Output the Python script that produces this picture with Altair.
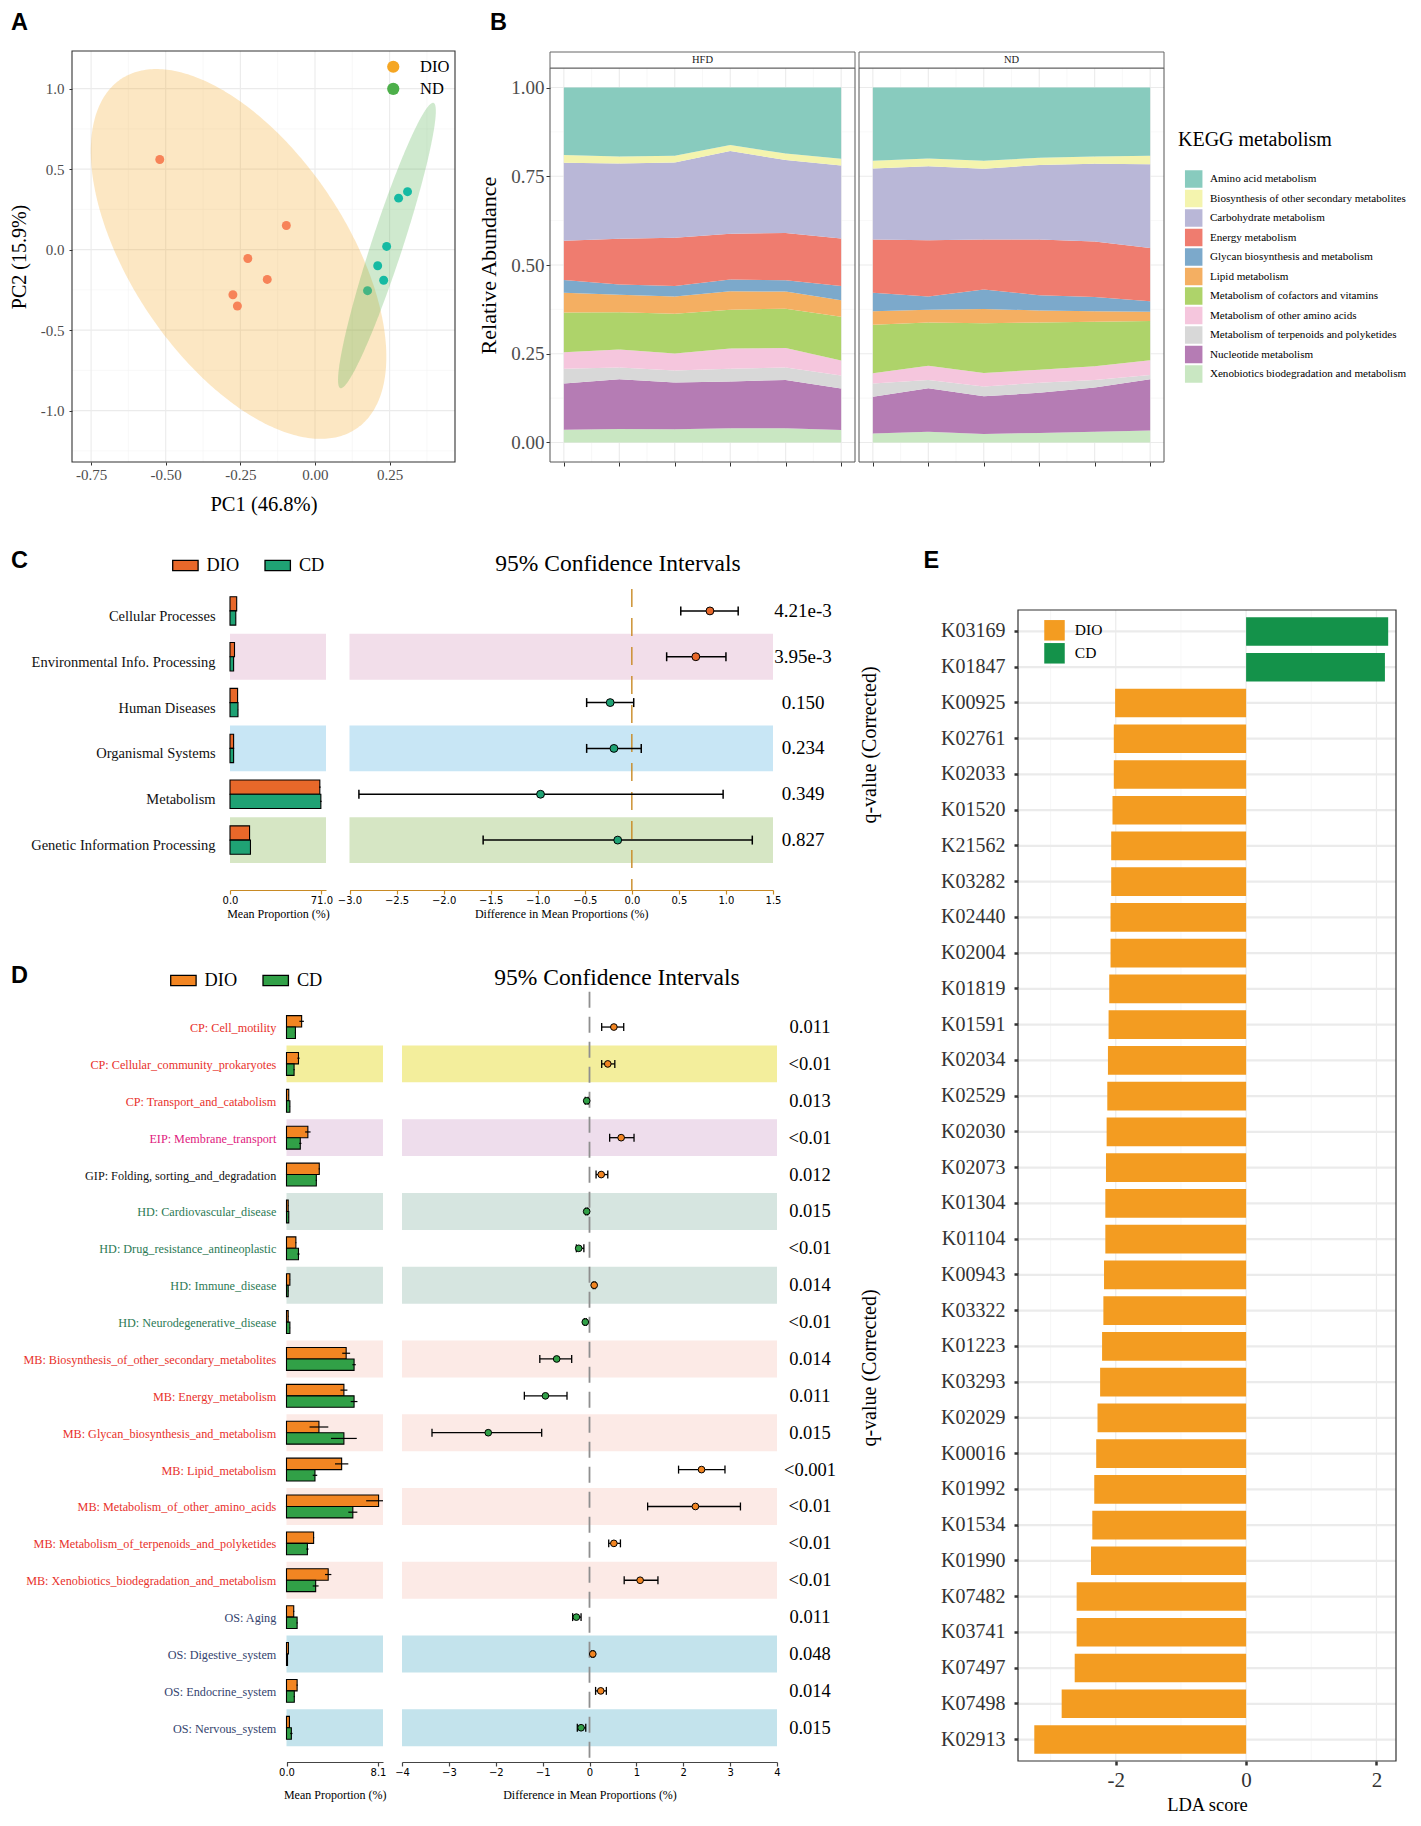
import altair as alt
import numpy as np
import pandas as pd

# ======================= DATA =======================
# --- Panel A: PCA scores ---
pca_groups = ["DIO", "ND"]
dio_pc1 = [-0.52, -0.096, -0.225, -0.16, -0.275, -0.26]
dio_pc2 = [0.56, 0.15, -0.055, -0.185, -0.28, -0.35]
nd_pc1 = [0.176, 0.21, 0.23, 0.24, 0.28, 0.31]
nd_pc2 = [-0.255, -0.10, -0.19, 0.02, 0.32, 0.36]
pc1_ticks = [-0.75, -0.5, -0.25, 0.0, 0.25]
pc2_ticks = [-1.0, -0.5, 0.0, 0.5, 1.0]

# --- Panel B: KEGG level-2 relative abundance ---
kegg_cats = ["Amino acid metabolism", "Biosynthesis of other secondary metabolites",
             "Carbohydrate metabolism", "Energy metabolism", "Glycan biosynthesis and metabolism",
             "Lipid metabolism", "Metabolism of cofactors and vitamins",
             "Metabolism of other amino acids", "Metabolism of terpenoids and polyketides",
             "Nucleotide metabolism", "Xenobiotics biodegradation and metabolism"]
kegg_colors = ["#88CBBE", "#F4F4AE", "#B9B7D7", "#EF7C6F", "#7CA9CB", "#F4AF62",
               "#AED36A", "#F5C6DD", "#D8D8D8", "#B57CB4", "#C9E7C2"]
samples = [1, 2, 3, 4, 5, 6]
hfd_amino = [0.190, 0.194, 0.192, 0.162, 0.186, 0.201]
hfd_biosyn = [0.022, 0.020, 0.019, 0.017, 0.018, 0.019]
hfd_carb = [0.220, 0.212, 0.212, 0.233, 0.206, 0.205]
hfd_energy = [0.110, 0.129, 0.136, 0.129, 0.133, 0.134]
hfd_glycan = [0.036, 0.029, 0.030, 0.033, 0.032, 0.040]
hfd_lipid = [0.056, 0.049, 0.048, 0.052, 0.048, 0.047]
hfd_cofac = [0.112, 0.105, 0.112, 0.109, 0.111, 0.123]
hfd_otheraa = [0.046, 0.051, 0.048, 0.057, 0.055, 0.042]
hfd_terpen = [0.042, 0.033, 0.034, 0.036, 0.035, 0.037]
hfd_nucleo = [0.130, 0.140, 0.132, 0.132, 0.136, 0.117]
hfd_xeno = [0.036, 0.038, 0.037, 0.040, 0.040, 0.035]
nd_amino = [0.206, 0.200, 0.206, 0.198, 0.194, 0.192]
nd_biosyn = [0.022, 0.022, 0.023, 0.020, 0.021, 0.024]
nd_carb = [0.200, 0.208, 0.199, 0.210, 0.219, 0.236]
nd_energy = [0.150, 0.159, 0.141, 0.157, 0.156, 0.150]
nd_glycan = [0.052, 0.037, 0.055, 0.043, 0.040, 0.030]
nd_lipid = [0.038, 0.036, 0.040, 0.034, 0.030, 0.026]
nd_cofac = [0.137, 0.122, 0.140, 0.133, 0.125, 0.110]
nd_otheraa = [0.029, 0.040, 0.038, 0.037, 0.039, 0.042]
nd_terpen = [0.037, 0.023, 0.028, 0.028, 0.021, 0.012]
nd_nucleo = [0.104, 0.123, 0.106, 0.113, 0.125, 0.144]
nd_xeno = [0.025, 0.030, 0.024, 0.027, 0.030, 0.034]

# --- Panel C: STAMP level 1 ---
c_names = ["Cellular Processes", "Environmental Info. Processing", "Human Diseases",
           "Organismal Systems", "Metabolism", "Genetic Information Processing"]
c_dio = [5.2, 3.5, 5.9, 2.8, 69.8, 15.2]
c_cd = [4.5, 2.8, 6.2, 2.8, 70.6, 15.9]
c_dio_se = [0.1, 0.1, 0.1, 0.1, 0.6, 0.3]
c_cd_se = [0.1, 0.1, 0.1, 0.1, 0.6, 0.3]
c_diff = [0.83, 0.68, -0.23, -0.19, -0.97, -0.15]
c_lo = [0.52, 0.37, -0.48, -0.48, -2.90, -1.58]
c_hi = [1.13, 1.00, 0.02, 0.10, 0.97, 1.28]
c_q = ["4.21e-3", "3.95e-3", "0.150", "0.234", "0.349", "0.827"]
c_band_rows = [1, 3, 5]
c_band_colors = ["#F2DEEA", "#C8E6F5", "#D6E6C4"]

# --- Panel D: STAMP level 2 ---
d_names = ["CP: Cell_motility", "CP: Cellular_community_prokaryotes", "CP: Transport_and_catabolism",
           "EIP: Membrane_transport", "GIP: Folding, sorting_and_degradation",
           "HD: Cardiovascular_disease", "HD: Drug_resistance_antineoplastic", "HD: Immune_disease",
           "HD: Neurodegenerative_disease", "MB: Biosynthesis_of_other_secondary_metabolites",
           "MB: Energy_metabolism", "MB: Glycan_biosynthesis_and_metabolism", "MB: Lipid_metabolism",
           "MB: Metabolism_of_other_amino_acids", "MB: Metabolism_of_terpenoids_and_polyketides",
           "MB: Xenobiotics_biodegradation_and_metabolism", "OS: Aging", "OS: Digestive_system",
           "OS: Endocrine_system", "OS: Nervous_system"]
d_dio = [1.34, 1.06, 0.20, 1.89, 2.90, 0.15, 0.83, 0.30, 0.15, 5.28,
         5.08, 2.87, 4.88, 8.15, 2.40, 3.69, 0.64, 0.17, 0.94, 0.26]
d_cd = [0.79, 0.67, 0.30, 1.22, 2.64, 0.20, 1.06, 0.15, 0.30, 5.98,
        5.98, 5.08, 2.52, 5.87, 1.85, 2.58, 0.94, 0.09, 0.69, 0.43]
d_dio_se = [0.20, 0.10, 0.02, 0.24, 0.05, 0.02, 0.04, 0.02, 0.02, 0.35,
            0.31, 0.83, 0.59, 1.10, 0.05, 0.28, 0.05, 0.02, 0.05, 0.03]
d_cd_se = [0.05, 0.05, 0.02, 0.10, 0.05, 0.02, 0.10, 0.02, 0.02, 0.15,
           0.30, 1.14, 0.20, 0.40, 0.10, 0.26, 0.05, 0.02, 0.05, 0.10]
d_diff = [0.52, 0.39, -0.06, 0.675, 0.25, -0.06, -0.23, 0.10, -0.09, -0.70,
          -0.94, -2.16, 2.39, 2.26, 0.52, 1.08, -0.28, 0.07, 0.24, -0.18]
d_lo = [0.26, 0.26, -0.09, 0.43, 0.14, -0.08, -0.28, 0.08, -0.11, -1.06,
        -1.39, -3.36, 1.90, 1.24, 0.41, 0.74, -0.36, 0.05, 0.13, -0.26]
d_hi = [0.73, 0.54, -0.03, 0.95, 0.39, -0.04, -0.12, 0.12, -0.07, -0.38,
        -0.48, -1.02, 2.89, 3.22, 0.66, 1.46, -0.18, 0.09, 0.36, -0.08]
d_q = ["0.011", "<0.01", "0.013", "<0.01", "0.012", "0.015", "<0.01", "0.014", "<0.01", "0.014",
       "0.011", "0.015", "<0.001", "<0.01", "<0.01", "<0.01", "0.011", "0.048", "0.014", "0.015"]
d_prefix_colors = {"CP": "#E8312B", "EIP": "#E0197D", "GIP": "#111111", "HD": "#2C7A55",
                   "MB": "#E8312B", "OS": "#34436E"}
d_band_colors = {"CP": "#F3EE9C", "EIP": "#EEDDEC", "HD": "#D6E5E0", "MB": "#FCEAE6", "OS": "#C3E3EC"}

# --- Panel E: LEfSe LDA ---
e_names = ["K03169", "K01847", "K00925", "K02761", "K02033", "K01520", "K21562", "K03282",
           "K02440", "K02004", "K01819", "K01591", "K02034", "K02529", "K02030", "K02073",
           "K01304", "K01104", "K00943", "K03322", "K01223", "K03293", "K02029", "K00016",
           "K01992", "K01534", "K01990", "K07482", "K03741", "K07497", "K07498", "K02913"]
e_lda = [2.18, 2.13, -2.01, -2.03, -2.03, -2.05, -2.07, -2.07, -2.08, -2.08, -2.10, -2.11,
         -2.12, -2.13, -2.14, -2.15, -2.16, -2.16, -2.18, -2.19, -2.21, -2.24, -2.28, -2.30,
         -2.33, -2.36, -2.38, -2.60, -2.60, -2.63, -2.83, -3.25]
e_groups = ["DIO", "CD"]

# ======================= STYLE / LAYOUT =======================
W, H = 1405, 1805
SERIF = "Liberation Serif"
SANS = "DejaVu Sans"
BOLDF = "Liberation Sans"
MINUS = "replace(datum.label, '\u2212', '-')"
C_DIO, C_CD = "#E8682A", "#1FA274"
D_DIO, D_CD = "#F28522", "#31A047"
E_DIO, E_CD = "#F39C21", "#14924A"
CAX = "#C88A24"


def qs(dom, r0, r1):
    return alt.Scale(domain=[float(dom[0]), float(dom[1])], range=[float(r0), float(r1)],
                     nice=False, zero=False)


def txt(s, x, y, size, font=SERIF, align="center", baseline="middle", angle=None,
        weight="normal", color="black"):
    kw = dict(font=font, fontSize=size, align=align, baseline=baseline,
              fontWeight=weight, color=color)
    if angle is not None:
        kw["angle"] = angle
    return alt.Chart(pd.DataFrame({"t": [s]})).mark_text(**kw).encode(
        text="t:N", x=alt.value(x), y=alt.value(y))


def grid_df(xmaj, xmin, ymaj, ymin, xdom, ydom, cmaj="#EBEBEB", cmin="#F3F3F3",
            wmaj=1.1, wmin=0.55):
    rows = []
    for v in xmin:
        rows.append(dict(x=v, x2=v, y=ydom[0], y2=ydom[1], w=wmin, c=cmin))
    for v in ymin:
        rows.append(dict(x=xdom[0], x2=xdom[1], y=v, y2=v, w=wmin, c=cmin))
    for v in xmaj:
        rows.append(dict(x=v, x2=v, y=ydom[0], y2=ydom[1], w=wmaj, c=cmaj))
    for v in ymaj:
        rows.append(dict(x=xdom[0], x2=xdom[1], y=v, y2=v, w=wmaj, c=cmaj))
    return pd.DataFrame(rows)


def grid_layer(df, xs, ys):
    return alt.Chart(df).mark_rule().encode(
        x=alt.X("x:Q", scale=xs, axis=None), x2="x2:Q",
        y=alt.Y("y:Q", scale=ys, axis=None), y2="y2:Q",
        strokeWidth=alt.StrokeWidth("w:Q", scale=None),
        color=alt.Color("c:N", scale=None))


def frame(xs, ys, xdom, ydom, stroke="#333333", sw=1.1, xaxis=None, yaxis=None):
    df = pd.DataFrame({"x": [xdom[0]], "x2": [xdom[1]], "y": [ydom[0]], "y2": [ydom[1]]})
    return alt.Chart(df).mark_rect(fillOpacity=0, stroke=stroke, strokeWidth=sw).encode(
        x=alt.X("x:Q", scale=xs, axis=xaxis), x2="x2:Q",
        y=alt.Y("y:Q", scale=ys, axis=yaxis), y2="y2:Q")


def rect_layer(df, xs, ys):
    return alt.Chart(df).mark_rect().encode(
        x=alt.X("x:Q", scale=xs, axis=None), x2="x2:Q",
        y=alt.Y("y:Q", scale=ys, axis=None), y2="y2:Q",
        color=alt.Color("c:N", scale=None))


def f2_quantile(p, m):
    # quantile of the F(2, m) distribution (closed form)
    return (m / 2.0) * ((1.0 - p) ** (-2.0 / m) - 1.0)


def ellipse_band(xs, ys, level=0.95, n=181):
    x = np.asarray(xs, float)
    y = np.asarray(ys, float)
    cx, cy = x.mean(), y.mean()
    S = np.cov(np.vstack([x, y]))
    r2 = 2.0 * f2_quantile(level, len(x) - 1)
    Si = np.linalg.inv(S)
    a, b, d = Si[0, 0], Si[0, 1], Si[1, 1]
    xr = np.sqrt(r2 * S[0, 0])
    t = np.linspace(0, np.pi, n)
    dx = -xr * np.cos(t)
    disc = np.clip((b * dx) ** 2 - d * (a * dx ** 2 - r2), 0, None)
    lo = (-b * dx - np.sqrt(disc)) / d
    hi = (-b * dx + np.sqrt(disc)) / d
    return pd.DataFrame({"x": cx + dx, "ylo": cy + lo, "yhi": cy + hi})


layers = []

# ======================= PANEL A =======================
A_XDOM, A_YDOM = [-0.814, 0.469], [-1.319, 1.234]
A_XS, A_YS = qs(A_XDOM, 64, 447), qs(A_YDOM, 454, 43)
layers.append(grid_layer(grid_df(pc1_ticks, [-0.625, -0.375, -0.125, 0.125, 0.375], pc2_ticks,
                                 [-1.25, -0.75, -0.25, 0.25, 0.75], A_XDOM, A_YDOM), A_XS, A_YS))
a_pts = pd.DataFrame({"pc1": dio_pc1 + nd_pc1, "pc2": dio_pc2 + nd_pc2,
                      "grp": ["DIO"] * len(dio_pc1) + ["ND"] * len(nd_pc1)})
layers.append(alt.Chart(a_pts).mark_circle(size=80, opacity=1).encode(
    x=alt.X("pc1:Q", scale=A_XS, axis=None), y=alt.Y("pc2:Q", scale=A_YS, axis=None),
    color=alt.Color("grp:N", scale=alt.Scale(domain=pca_groups, range=["#F8766D", "#00BFC4"]),
                    legend=None)))
ell = pd.concat([ellipse_band(dio_pc1, dio_pc2).assign(grp="DIO"),
                 ellipse_band(nd_pc1, nd_pc2).assign(grp="ND")], ignore_index=True)
layers.append(alt.Chart(ell).mark_area(opacity=0.27).encode(
    x=alt.X("x:Q", scale=A_XS, axis=None),
    y=alt.Y("ylo:Q", scale=A_YS, axis=None, stack=None), y2="yhi:Q",
    color=alt.Color("grp:N", scale=alt.Scale(domain=pca_groups, range=["#F5A623", "#4DAF4A"]),
                    legend=alt.Legend(orient="none", legendX=377, legendY=50.5, title=None,
                                      symbolType="circle", symbolSize=150, symbolOpacity=1,
                                      symbolStrokeWidth=0, labelFont=SERIF, labelFontSize=16.5,
                                      labelColor="black", labelOffset=18.6, rowPadding=5.1,
                                      padding=0))))
a_xaxis = alt.Axis(orient="bottom", offset=454 - H, values=pc1_ticks, format=".2f",
                   labelExpr=MINUS, labelFont=SERIF, labelFontSize=15, labelColor="#4D4D4D",
                   tickColor="#333333", tickSize=3, labelPadding=2, domain=False, grid=False,
                   labelFlush=False, labelOverlap=False,
                   title="PC1 (46.8%)", titleFont=SERIF, titleFontSize=20.5,
                   titleFontWeight="normal", titleColor="black", titleY=42,
                   titleBaseline="middle")
a_yaxis = alt.Axis(orient="left", offset=-64, values=pc2_ticks, format=".1f",
                   labelExpr=MINUS, labelFont=SERIF, labelFontSize=15, labelColor="#4D4D4D",
                   tickColor="#333333", tickSize=3, labelPadding=5, domain=False, grid=False,
                   labelFlush=False, labelOverlap=False,
                   title="PC2 (15.9%)", titleFont=SERIF, titleFontSize=20,
                   titleFontWeight="normal", titleColor="black", titleX=-53, titleAngle=270,
                   titleBaseline="middle")
layers.append(frame(A_XS, A_YS, A_XDOM, A_YDOM, xaxis=a_xaxis, yaxis=a_yaxis))

# ======================= PANEL B =======================
B_XDOM, B_YDOM = [0.75, 6.25], [-0.055, 1.055]
B_YS = qs(B_YDOM, 454, 60)
STRIP_TOP = B_YDOM[1] + 16.0 / (394.0 / (B_YDOM[1] - B_YDOM[0]))
hfd_vals = [hfd_amino, hfd_biosyn, hfd_carb, hfd_energy, hfd_glycan, hfd_lipid, hfd_cofac,
            hfd_otheraa, hfd_terpen, hfd_nucleo, hfd_xeno]
nd_vals = [nd_amino, nd_biosyn, nd_carb, nd_energy, nd_glycan, nd_lipid, nd_cofac,
           nd_otheraa, nd_terpen, nd_nucleo, nd_xeno]


def stack_df(vals):
    rows = []
    base = np.zeros(len(samples))
    for cat, v in zip(reversed(kegg_cats), reversed(vals)):
        v = np.asarray(v, float)
        for i, s in enumerate(samples):
            rows.append({"s": s, "cat": cat, "y0": base[i], "y1": base[i] + v[i]})
        base = base + v
    return pd.DataFrame(rows)


b_tick_x = alt.Axis(orient="bottom", offset=454 - H, values=samples, labels=False, tickSize=4,
                    tickColor="#333333", domain=False, grid=False, title=None)
b_yaxis = alt.Axis(orient="left", offset=-542, values=[0, 0.25, 0.5, 0.75, 1.0], format=".2f",
                   labelFont=SERIF, labelFontSize=19, labelColor="#4D4D4D", tickColor="#333333",
                   tickSize=4, labelPadding=2, domain=False, grid=False, labelFlush=False,
                   labelOverlap=False, title="Relative Abundance", titleFont=SERIF,
                   titleFontSize=22, titleFontWeight="normal", titleColor="black", titleX=-62,
                   titleAngle=270, titleBaseline="middle")
b_legend = alt.Legend(orient="none", legendX=1170, legendY=121.5, title="KEGG metabolism",
                      titleFont=SERIF, titleFontSize=20, titleFontWeight="normal",
                      titleColor="black", titlePadding=20.5, symbolType="square",
                      symbolSize=306, symbolStrokeWidth=0, symbolOffset=6.7, labelFont=SERIF,
                      labelFontSize=11.1, labelColor="black", labelOffset=7.2, rowPadding=1.5,
                      padding=0, labelLimit=400)

for label, vals, x0, x1 in [("HFD", hfd_vals, 542, 847), ("ND", nd_vals, 851, 1156)]:
    xs = qs(B_XDOM, x0, x1)
    layers.append(grid_layer(grid_df(samples, [1.5, 2.5, 3.5, 4.5, 5.5], [0, 0.25, 0.5, 0.75, 1.0],
                                     [0.125, 0.375, 0.625, 0.875], B_XDOM, B_YDOM), xs, B_YS))
    layers.append(alt.Chart(stack_df(vals)).mark_area(opacity=1).encode(
        x=alt.X("s:Q", scale=xs, axis=None),
        y=alt.Y("y1:Q", scale=B_YS, axis=None, stack=None), y2="y0:Q",
        color=alt.Color("cat:N", scale=alt.Scale(domain=kegg_cats, range=kegg_colors),
                        legend=b_legend if label == "HFD" else None)))
    layers.append(frame(xs, B_YS, B_XDOM, B_YDOM, stroke="#555555", sw=1,
                        xaxis=b_tick_x, yaxis=b_yaxis if label == "HFD" else None))
    strip = pd.DataFrame({"x": [B_XDOM[0]], "x2": [B_XDOM[1]], "y": [B_YDOM[1]], "y2": [STRIP_TOP],
                          "xm": [sum(B_XDOM) / 2], "ym": [(B_YDOM[1] + STRIP_TOP) / 2], "t": [label]})
    layers.append(alt.Chart(strip).mark_rect(fill="white", stroke="#666666", strokeWidth=1).encode(
        x=alt.X("x:Q", scale=xs, axis=None), x2="x2:Q",
        y=alt.Y("y:Q", scale=B_YS, axis=None), y2="y2:Q"))
    layers.append(alt.Chart(strip).mark_text(font=SERIF, fontSize=10.5, color="#1A1A1A",
                                             baseline="middle").encode(
        x=alt.X("xm:Q", scale=xs, axis=None), y=alt.Y("ym:Q", scale=B_YS, axis=None), text="t:N"))


# ======================= PANELS C & D (STAMP) =======================
def stamp(names, dio, cd, dio_se, cd_se, diff, lo, hi, qv, band_rows, band_cols,
          ys, bx, bxdom, cx, cxdom, cdio, ccd, half, cap, psize, dash_y, dash_col, dash_w, dash,
          bar_axis, ci_axis, legend, label_x, label_dy, label_size, label_cols, q_x, q_size,
          ci_w):
    out = []
    idx = list(range(len(names)))
    bands = pd.DataFrame({"y": [r - 0.5 for r in band_rows], "y2": [r + 0.5 for r in band_rows],
                          "c": band_cols})
    out.append(rect_layer(bands.assign(x=bxdom[0], x2=bxdom[1]), bx, ys))
    out.append(rect_layer(bands.assign(x=cxdom[0], x2=cxdom[1]), cx, ys))
    out.append(alt.Chart(pd.DataFrame({"x": [0.0], "y": [dash_y[0]], "y2": [dash_y[1]]})).mark_rule(
        color=dash_col, strokeWidth=dash_w, strokeDash=dash).encode(
        x=alt.X("x:Q", scale=cx, axis=ci_axis), y=alt.Y("y:Q", scale=ys, axis=None), y2="y2:Q"))
    ci = pd.DataFrame({"i": idx, "lo": lo, "hi": hi, "d": diff,
                       "pc": [cdio if v > 0 else ccd for v in diff]})
    out.append(alt.Chart(ci).mark_rule(color="black", strokeWidth=ci_w).encode(
        x=alt.X("lo:Q", scale=cx, axis=None), x2="hi:Q", y=alt.Y("i:Q", scale=ys, axis=None)))
    caps = pd.DataFrame({"x": lo + hi, "i": idx + idx})
    caps["y"] = caps["i"] - cap
    caps["y2"] = caps["i"] + cap
    out.append(alt.Chart(caps).mark_rule(color="black", strokeWidth=ci_w).encode(
        x=alt.X("x:Q", scale=cx, axis=None), y=alt.Y("y:Q", scale=ys, axis=None), y2="y2:Q"))
    out.append(alt.Chart(ci).mark_circle(size=psize, stroke="black", strokeWidth=1,
                                         opacity=1).encode(
        x=alt.X("d:Q", scale=cx, axis=None), y=alt.Y("i:Q", scale=ys, axis=None),
        color=alt.Color("pc:N", scale=None)))
    brows = []
    for i in idx:
        brows.append({"i": i, "grp": "DIO", "v": dio[i], "se": dio_se[i], "ya": i - half, "yb": i,
                      "ym": i - half / 2})
        brows.append({"i": i, "grp": "CD", "v": cd[i], "se": cd_se[i], "ya": i, "yb": i + half,
                      "ym": i + half / 2})
    bars = pd.DataFrame(brows)
    bars["zero"] = 0.0
    bars["elo"] = (bars["v"] - bars["se"]).clip(lower=bxdom[0])
    bars["ehi"] = (bars["v"] + bars["se"]).clip(upper=bxdom[1])
    out.append(alt.Chart(bars).mark_rect(stroke="black", strokeWidth=1.1).encode(
        x=alt.X("zero:Q", scale=bx, axis=bar_axis), x2="v:Q",
        y=alt.Y("ya:Q", scale=ys, axis=None), y2="yb:Q",
        color=alt.Color("grp:N", scale=alt.Scale(domain=["DIO", "CD"], range=[cdio, ccd]),
                        legend=legend)))
    out.append(alt.Chart(bars).mark_rule(color="black", strokeWidth=1.2).encode(
        x=alt.X("elo:Q", scale=bx, axis=None), x2="ehi:Q", y=alt.Y("ym:Q", scale=ys, axis=None)))
    labs = pd.DataFrame({"i": idx, "t": names, "c": label_cols, "q": qv})
    out.append(alt.Chart(labs).mark_text(font=SERIF, fontSize=label_size, align="right",
                                         baseline="middle", dy=label_dy).encode(
        x=alt.value(label_x), y=alt.Y("i:Q", scale=ys, axis=None), text="t:N",
        color=alt.Color("c:N", scale=None)))
    out.append(alt.Chart(labs).mark_text(font=SERIF, fontSize=q_size, align="center",
                                         baseline="middle", color="black").encode(
        x=alt.value(q_x), y=alt.Y("i:Q", scale=ys, axis=None), text="q:N"))
    return out


def stamp_legend(lx, ly):
    return alt.Legend(orient="none", legendX=lx, legendY=ly, direction="horizontal", title=None,
                      symbolType="M-1,-0.4L1,-0.4L1,0.4L-1,0.4Z", symbolSize=645,
                      symbolStrokeColor="black", symbolStrokeWidth=1.3, labelFont=SERIF,
                      labelFontSize=18.3, labelColor="black", labelOffset=7.7,
                      columnPadding=22.3, padding=0)


def stamp_axis(offset, values, fmt, color, title, title_y):
    return alt.Axis(orient="bottom", offset=offset, values=values, format=fmt, labelFont=SANS,
                    labelFontSize=10, labelColor="black", domainColor=color, tickColor=color,
                    tickSize=4, domainWidth=1.2, tickWidth=1.2, labelPadding=1, grid=False,
                    labelFlush=False, labelOverlap=False, title=title, titleFont=SERIF,
                    titleFontSize=12, titleFontWeight="normal", titleColor="black",
                    titleY=title_y, titleBaseline="middle")


# ---- C ----
C_YS = qs([-0.5, 5.5], 580, 855)
C_BXDOM, C_CXDOM = [0.0, 74.6], [-3.0, 1.5]
layers += stamp(
    c_names, c_dio, c_cd, c_dio_se, c_cd_se, c_diff, c_lo, c_hi, c_q, c_band_rows, c_band_colors,
    C_YS, qs(C_BXDOM, 222, 318), C_BXDOM, qs(C_CXDOM, 341.5, 765), C_CXDOM, C_DIO, C_CD,
    half=0.31, cap=0.098, psize=62, dash_y=[-0.48, 6.09], dash_col=CAX, dash_w=1.4, dash=[18, 11],
    bar_axis=stamp_axis(882 - H, [0, 71], ".1f", CAX, "Mean Proportion (%)", 23),
    ci_axis=stamp_axis(882 - H, [-3.0, -2.5, -2.0, -1.5, -1.0, -0.5, 0.0, 0.5, 1.0, 1.5], ".1f",
                       CAX, "Difference in Mean Proportions (%)", 23),
    legend=stamp_legend(163.9, 543.9), label_x=207.6, label_dy=6, label_size=14.5,
    label_cols=["#111111"] * len(c_names), q_x=795, q_size=19, ci_w=1.5)

# ---- D ----
D_YS = qs([-0.5, 19.5], 1000.6, 1738.2)
D_BXDOM, D_CXDOM = [0.0, 8.54], [-4.0, 4.0]
d_pref = [n.split(":")[0] for n in d_names]
d_band_rows = [i for i in range(len(d_names)) if i % 2 == 1]
layers += stamp(
    d_names, d_dio, d_cd, d_dio_se, d_cd_se, d_diff, d_lo, d_hi, d_q, d_band_rows,
    [d_band_colors[d_pref[i]] for i in d_band_rows],
    D_YS, qs(D_BXDOM, 278.5, 375), D_BXDOM, qs(D_CXDOM, 394, 769), D_CXDOM, D_DIO, D_CD,
    half=0.31, cap=0.108, psize=45, dash_y=[-0.96, 19.93], dash_col="#8F8F8F", dash_w=1.8,
    dash=[16, 9],
    bar_axis=stamp_axis(1754 - H, [0, 8.1], ".1f", "#444444", "Mean Proportion (%)", 32),
    ci_axis=stamp_axis(1754 - H, [-4, -3, -2, -1, 0, 1, 2, 3, 4], "d", "#444444",
                       "Difference in Mean Proportions (%)", 32),
    legend=stamp_legend(161.9, 958.9), label_x=268.3, label_dy=1, label_size=12.2,
    label_cols=[d_prefix_colors[p] for p in d_pref], q_x=802, q_size=18.5, ci_w=1.3)

# ======================= PANEL E =======================
E_XDOM = [-3.5, 2.3]
E_XS = qs(E_XDOM, 1010, 1388)
E_YF = qs([0, 1], 1753, 602)
E_YB = alt.Scale(domain=e_names, range=[602, 1753], paddingInner=0.2, paddingOuter=0.2)
e_vg = pd.DataFrame({"x": [-3, -1, 1, -2, 0, 2], "y": [0] * 6, "y2": [1] * 6,
                     "w": [0.6] * 3 + [1.2] * 3, "c": ["#F2F2F2"] * 3 + ["#EBEBEB"] * 3})
layers.append(alt.Chart(e_vg).mark_rule().encode(
    x=alt.X("x:Q", scale=E_XS, axis=None), y=alt.Y("y:Q", scale=E_YF, axis=None), y2="y2:Q",
    strokeWidth=alt.StrokeWidth("w:Q", scale=None), color=alt.Color("c:N", scale=None)))
e_df = pd.DataFrame({"k": e_names, "lda": e_lda,
                     "grp": ["CD" if v > 0 else "DIO" for v in e_lda]})
e_df["zero"] = 0.0
e_df["xa"] = E_XDOM[0]
e_df["xb"] = E_XDOM[1]
layers.append(alt.Chart(e_df).mark_rule(color="#EBEBEB", strokeWidth=2.2).encode(
    x=alt.X("xa:Q", scale=E_XS, axis=None), x2="xb:Q", y=alt.Y("k:N", scale=E_YB, axis=None)))
e_xaxis = alt.Axis(orient="bottom", offset=1753 - H, values=[-2, 0, 2], format="d",
                   labelExpr=MINUS, labelFont=SERIF, labelFontSize=21, labelColor="#333333",
                   tickColor="#333333", tickSize=4, tickWidth=2.5, labelPadding=4, domain=False,
                   grid=False, labelFlush=False, labelOverlap=False, title="LDA score",
                   titleFont=SERIF, titleFontSize=18.5, titleFontWeight="normal",
                   titleColor="black", titleY=43, titleBaseline="middle")
e_yaxis = alt.Axis(orient="left", offset=-1010, labelFont=SERIF, labelFontSize=20,
                   labelColor="#333333", tickColor="#333333", tickSize=4, tickWidth=2.5,
                   labelPadding=9, domain=False, grid=False, title=None, labelOverlap=False)
layers.append(alt.Chart(e_df).mark_bar().encode(
    x=alt.X("lda:Q", scale=E_XS, axis=e_xaxis), x2="zero:Q",
    y=alt.Y("k:N", scale=E_YB, axis=e_yaxis, sort=e_names),
    color=alt.Color("grp:N", scale=alt.Scale(domain=e_groups, range=[E_DIO, E_CD]),
                    legend=alt.Legend(orient="none", legendX=1036, legendY=611.8, title=None,
                                      symbolType="square", symbolSize=420, symbolStrokeWidth=0,
                                      labelFont=SERIF, labelFontSize=15.5, labelColor="black",
                                      labelOffset=9.8, rowPadding=2, padding=0))))
layers.append(frame(E_XS, E_YF, E_XDOM, [0, 1], stroke="#333333", sw=1.2))

# ======================= TEXT =======================
for letter, lx, ly in [("A", 3, 22), ("B", 482, 22), ("C", 3, 560.3), ("D", 3, 975.3),
                       ("E", 915.6, 560.3)]:
    layers.append(txt(letter, lx, ly, 23.5, font=BOLDF, align="left", baseline="alphabetic",
                      weight="bold"))
layers.append(txt("95% Confidence Intervals", 610, 556, 23.5))
layers.append(txt("95% Confidence Intervals", 609, 969.5, 23.5))
layers.append(txt("q-value (Corrected)", 862, 737, 20, angle=270))
layers.append(txt("q-value (Corrected)", 862, 1360, 20, angle=270))

chart = alt.layer(*layers).resolve_scale(
    x="independent", y="independent", color="independent"
).properties(
    width=W, height=H, padding=0, autosize=alt.AutoSizeParams(type="none")
).configure_view(stroke=None)

chart.save("out.html", embed_options={"renderer": "svg", "actions": False})
